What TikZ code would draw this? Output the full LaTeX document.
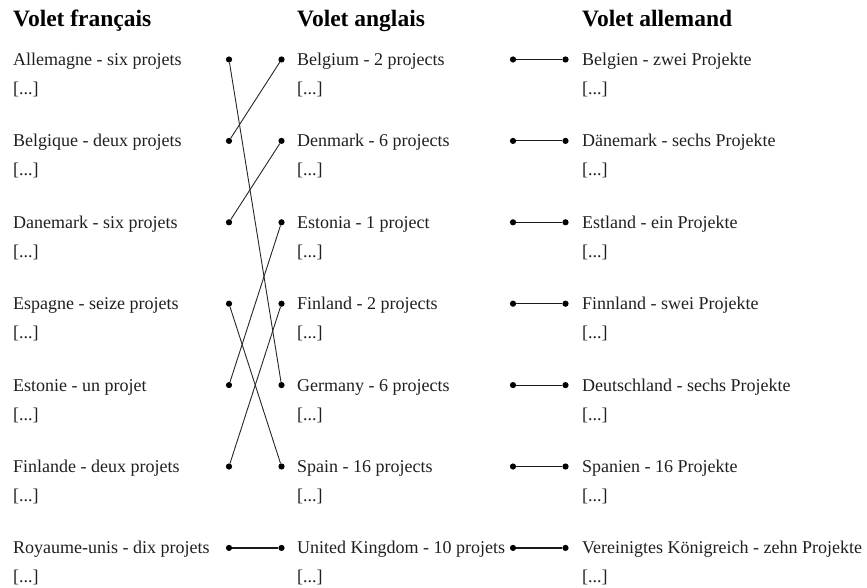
\documentclass[tikz,border=0pt]{standalone}
\usepackage{fontspec}
\setmainfont{Liberation Serif}
\begin{document}
\begin{tikzpicture}[x=1pt,y=-1pt,
  txt/.style={anchor=base west, inner sep=0pt, font=\fontsize{18}{20}\selectfont, text=black!88},
  ttl/.style={anchor=base west, inner sep=0pt, font=\fontsize{23.5}{26}\selectfont\bfseries},
  dot/.style={circle, fill=black, inner sep=0pt, minimum size=6.2pt},
  link/.style={line width=0.9pt, black!85},
  hlink/.style={line width=1.2pt, black!90}]
\useasboundingbox (0,0) rectangle (867,588);
\node[ttl] (t1) at (13,27) {Volet français};
\node[ttl] (t2) at (297,27) {Volet anglais};
\node[ttl] (t3) at (582,27) {Volet allemand};
\foreach \i/\y/\fr/\en/\de in {
  1/59.5/{Allemagne - six projets}/{Belgium - 2 projects}/{Belgien - zwei Projekte},
  2/140.9/{Belgique - deux projets}/{Denmark - 6 projects}/{Dänemark - sechs Projekte},
  3/222.3/{Danemark - six projets}/{Estonia - 1 project}/{Estland - ein Projekte},
  4/303.7/{Espagne - seize projets}/{Finland - 2 projects}/{Finnland - swei Projekte},
  5/385.1/{Estonie - un projet}/{Germany - 6 projects}/{Deutschland - sechs Projekte},
  6/466.5/{Finlande - deux projets}/{Spain - 16 projects}/{Spanien - 16 Projekte},
  7/547.9/{Royaume-unis - dix projets}/{United Kingdom - 10 projets}/{Vereinigtes Königreich - zehn Projekte}}
{
  \node[txt] (fr\i) at (13,\y+6) {\fr};
  \node[txt] (frx\i) at (13,\y+35) {[...]};
  \node[txt] (en\i) at (297,\y+6) {\en};
  \node[txt] (enx\i) at (297,\y+35) {[...]};
  \node[txt] (de\i) at (582,\y+6) {\de};
  \node[txt] (dex\i) at (582,\y+35) {[...]};
  \node[dot] (a\i) at (229,\y) {};
  \node[dot] (b\i) at (281.5,\y) {};
  \node[dot] (c\i) at (513,\y) {};
  \node[dot] (d\i) at (565.5,\y) {};
}
\draw[link] (a1) -- (b5);
\draw[link] (a2) -- (b1);
\draw[link] (a3) -- (b2);
\draw[link] (a4) -- (b6);
\draw[link] (a5) -- (b3);
\draw[link] (a6) -- (b4);
\draw[hlink] (a7) -- (b7);
\foreach \i in {1,...,7} \draw[hlink] (c\i) -- (d\i);
\end{tikzpicture}
\end{document}
